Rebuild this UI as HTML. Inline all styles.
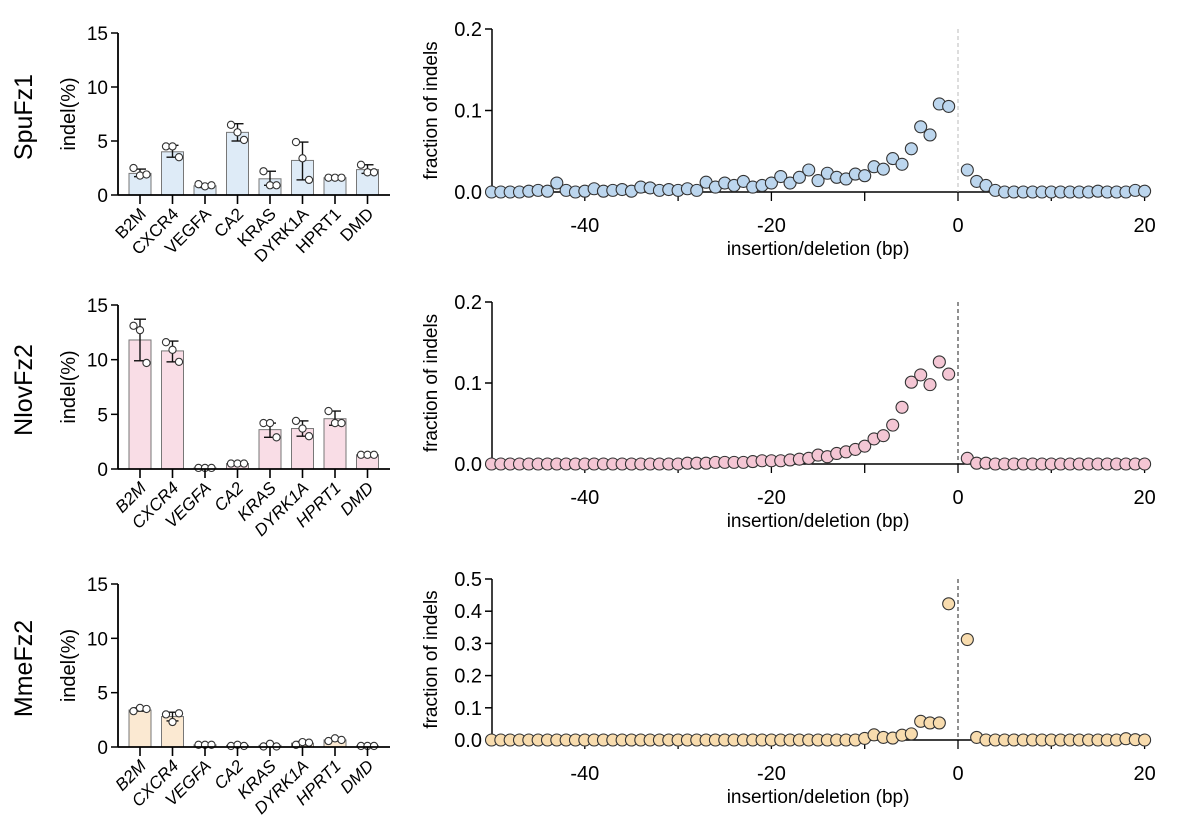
<!DOCTYPE html>
<html><head><meta charset="utf-8"><style>
body{margin:0;background:#fff;}
svg{display:block;font-family:"Liberation Sans",Arial,sans-serif;}
</style></head><body>
<svg id="fig" width="1200" height="834" viewBox="0 0 1200 834" xmlns="http://www.w3.org/2000/svg"></svg>
<script>
const genes = ["B2M","CXCR4","VEGFA","CA2","KRAS","DYRK1A","HPRT1","DMD"];
const barTicks = [0,5,10,15];
const spuMeans = [2.0,4.0,0.85,5.8,1.5,3.2,1.6,2.35];
const spuErrLo = [1.7,3.5,0.7,5.0,0.9,1.4,1.5,2.0];
const spuErrHi = [2.4,4.6,1.0,6.6,2.2,4.9,1.7,2.8];
const spuPts = [[2.5,1.8,1.9],[4.5,4.5,3.5],[1.0,0.8,0.9],[6.5,5.8,5.1],[2.2,0.9,0.9],[4.9,3.4,1.4],[1.6,1.6,1.6],[2.8,2.1,2.1]];
const nlovMeans = [11.8,10.8,0.1,0.5,3.6,3.7,4.6,1.3];
const nlovErrLo = [9.9,9.8,0.05,0.45,2.9,3.0,4.0,1.2];
const nlovErrHi = [13.7,11.7,0.15,0.55,4.2,4.4,5.3,1.4];
const nlovPts = [[13.1,12.7,9.7],[11.6,10.9,9.8],[0.1,0.1,0.1],[0.5,0.5,0.5],[4.2,4.2,2.9],[4.4,3.7,3.0],[5.3,4.2,4.2],[1.3,1.3,1.3]];
const mmeMeans = [3.4,2.8,0.2,0.15,0.15,0.35,0.65,0.1];
const mmeErrLo = [3.3,2.4,0.15,0.1,0.05,0.2,0.55,0.05];
const mmeErrHi = [3.6,3.2,0.25,0.2,0.3,0.5,0.8,0.15];
const mmePts = [[3.3,3.6,3.5],[3.0,2.3,3.1],[0.2,0.2,0.2],[0.1,0.2,0.1],[0.05,0.3,0.05],[0.2,0.45,0.4],[0.55,0.8,0.65],[0.1,0.1,0.1]];
const indelX = [];
for (let v=-50; v<=20; v++) if (v!==0) indelX.push(v);
const spuFrac = [0,0,0,0,0.001,0.002,0.001,0.011,0.002,0,0.001,0.004,0.001,0.002,0.003,0.001,0.006,0.005,0.002,0.003,0.002,0.004,0.002,0.012,0.006,0.011,0.008,0.013,0.006,0.008,0.011,0.019,0.011,0.018,0.027,0.014,0.023,0.018,0.016,0.022,0.020,0.031,0.028,0.041,0.034,0.053,0.080,0.070,0.108,0.105,
0.027,0.013,0.008,0.002,0,0,0,0,0,0,0,0,0,0,0.001,0,0,0,0.002,0.001];
const nlovFrac = [0,0,0,0,0,0,0,0,0,0,0,0,0,0,0,0,0,0,0,0,0,0.001,0.001,0.001,0.002,0.002,0.002,0.002,0.003,0.004,0.004,0.004,0.005,0.006,0.007,0.011,0.009,0.013,0.015,0.018,0.022,0.031,0.035,0.048,0.070,0.101,0.110,0.098,0.126,0.111,
0.007,0.001,0.001,0,0,0,0,0,0,0,0,0,0,0,0,0,0,0,0,0];
const mmeFrac = [0,0,0,0,0,0,0,0,0,0,0,0,0,0,0,0,0,0,0,0,0,0,0,0,0,0,0,0,0,0,0,0,0,0,0,0,0,0,0,0,0.005,0.016,0.008,0.006,0.015,0.019,0.058,0.053,0.053,0.423,
0.312,0.008,0,0,0,0,0,0,0,0,0,0,0,0,0,0,0,0.004,0.001,0];
const xTicks = [-40,-20,0,20];

const NS="http://www.w3.org/2000/svg";
const svg=document.getElementById('fig');
function mk(tag,attrs,parent,text){const e=document.createElementNS(NS,tag);for(const k in attrs)e.setAttribute(k,attrs[k]);if(text!==undefined)e.textContent=text;(parent||svg).appendChild(e);return e;}

function barPanel(name,label,y15,y0,means,lo,hi,pts,barFill,dotFill,italic){
  const g=mk('g',{});
  
  
  const ys=v=>y0-(v/15)*(y0-y15);
  const x0=118, step=32.5, first=140;
  const xs=i=>first+i*step;
  const rl=mk('text',{x:0,y:0,'font-size':25,'text-anchor':'middle',transform:`translate(32,${(y15+y0)/2+3}) rotate(-90)`},g,label);
  
  
  const yt=mk('text',{x:0,y:0,'font-size':20,'text-anchor':'middle',transform:`translate(75,${(y15+y0)/2}) rotate(-90)`},g,'indel(%)');
  
  
  barTicks.forEach(t=>{
    mk('line',{x1:x0-7,x2:x0,y1:ys(t),y2:ys(t),stroke:'#000','stroke-width':1.5},g);
    const tl=mk('text',{x:x0-10,y:ys(t)+7,'font-size':19,'text-anchor':'end'},g,String(t));
    
    
  });
  means.forEach((m,i)=>{
    const cx=xs(i);
    const b=mk('rect',{x:cx-11,y:ys(m),width:22,height:y0-ys(m),fill:barFill,stroke:'#777','stroke-width':1},g);
    
    
    mk('line',{x1:cx,x2:cx,y1:ys(lo[i]),y2:ys(hi[i]),stroke:'#111','stroke-width':1.4},g);
    mk('line',{x1:cx-6,x2:cx+6,y1:ys(lo[i]),y2:ys(lo[i]),stroke:'#111','stroke-width':1.4},g);
    mk('line',{x1:cx-6,x2:cx+6,y1:ys(hi[i]),y2:ys(hi[i]),stroke:'#111','stroke-width':1.4},g);
    pts[i].forEach((p,j)=>{
      const d=mk('circle',{cx:cx+(j-1)*6.5,cy:ys(p),r:3.6,fill:'#fff',stroke:'#333','stroke-width':1.1},g);
      
      
    });
    mk('line',{x1:cx,x2:cx,y1:y0,y2:y0+9,stroke:'#000','stroke-width':1.6},g);
    const cl=mk('text',{x:0,y:0,'font-size':17,'text-anchor':'end','font-style':italic?'italic':'normal',transform:`translate(${cx+7},${y0+20}) rotate(-45)`},g,genes[i]);
    
    
  });
  mk('line',{x1:x0,x2:x0,y1:y15,y2:y0,stroke:'#000','stroke-width':1.8},g);
  mk('line',{x1:x0,x2:390,y1:y0,y2:y0,stroke:'#000','stroke-width':1.8},g);
}

function scatterPanel(name,yTop,y0,ymax,yticks,fracs,fill,dashColor){
  const g=mk('g',{});
  
  
  const xs=v=>958+v*9.33;
  const ys=v=>y0-(v/ymax)*(y0-yTop);
  const ax=492;
  const yt=mk('text',{x:0,y:0,'font-size':19,'text-anchor':'middle',transform:`translate(437,${(yTop+y0)/2}) rotate(-90)`},g,'fraction of indels');
  
  
  yticks.forEach(t=>{
    mk('line',{x1:ax-7,x2:ax,y1:ys(t),y2:ys(t),stroke:'#000','stroke-width':1.5},g);
    const tl=mk('text',{x:ax-10,y:ys(t)+7,'font-size':20,'text-anchor':'end'},g,t.toFixed(1));
    
    
  });
  mk('line',{x1:ax,x2:ax,y1:yTop,y2:y0,stroke:'#000','stroke-width':1.5},g);
  mk('line',{x1:ax,x2:xs(20),y1:y0,y2:y0,stroke:'#000','stroke-width':1.5},g);
  for(let v=-40;v<=20;v+=10) mk('line',{x1:xs(v),x2:xs(v),y1:y0,y2:y0+9,stroke:'#000','stroke-width':1.3},g);
  xTicks.forEach(t=>{
    const tl=mk('text',{x:xs(t),y:y0+40,'font-size':20,'text-anchor':'middle'},g,String(t));
    
    
  });
  const xt=mk('text',{x:xs(-15),y:y0+63,'font-size':19,'text-anchor':'middle'},g,'insertion/deletion (bp)');
  
  
  mk('line',{x1:xs(0),x2:xs(0),y1:yTop,y2:y0,stroke:dashColor,'stroke-width':1,'stroke-dasharray':'4,3'},g);
  indelX.forEach((v,i)=>{
    const c=mk('circle',{cx:xs(v),cy:ys(fracs[i]),r:6,fill:fill,stroke:'#333','stroke-width':1.1},g);
    
    
  });
}

barPanel('spufz1','SpuFz1',33,195,spuMeans,spuErrLo,spuErrHi,spuPts,'#deebf7','#bcd6ee',false);
barPanel('nlovfz2','NlovFz2',305,469,nlovMeans,nlovErrLo,nlovErrHi,nlovPts,'#f9dde6','#f4c6d4',true);
barPanel('mmefz2','MmeFz2',584,747,mmeMeans,mmeErrLo,mmeErrHi,mmePts,'#fbe9d2','#f8dcae',true);
scatterPanel('spufz1',29,192,0.2,[0,0.1,0.2],spuFrac,'#bcd6ee','#bbb');
scatterPanel('nlovfz2',302,464,0.2,[0,0.1,0.2],nlovFrac,'#f4c6d4','#222');
scatterPanel('mmefz2',579,740,0.5,[0,0.1,0.2,0.3,0.4,0.5],mmeFrac,'#f8dcae','#222');
</script>
</body></html>
